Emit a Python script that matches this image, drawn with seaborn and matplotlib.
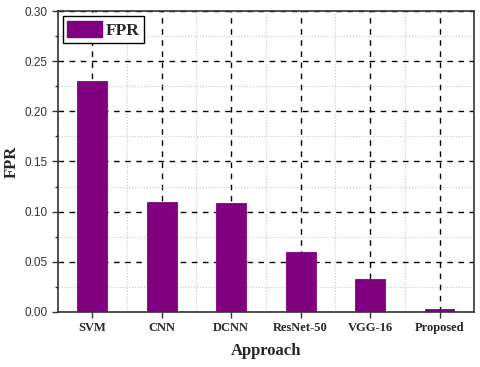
import pandas as pd
import matplotlib
matplotlib.use('Agg')
import matplotlib.pyplot as plt
import seaborn as sns
from matplotlib.ticker import MultipleLocator
from matplotlib.patches import Patch

approaches = ['SVM', 'CNN', 'DCNN', 'ResNet-50', 'VGG-16', 'Proposed']
fpr = [0.230, 0.110, 0.109, 0.060, 0.033, 0.003]

df = pd.DataFrame({'Approach': approaches, 'FPR': fpr})

sns.set_style('white')
purple = '#800080'

fig, ax = plt.subplots(figsize=(4.8, 3.67), dpi=100)
sns.barplot(x='Approach', y='FPR', data=df, color=purple, width=0.43,
            edgecolor=purple, linewidth=0.6, saturation=1, ax=ax, zorder=3)

ax.set_ylim(0, 0.30)
ax.set_xlim(-0.5, len(approaches) - 0.5)
ax.yaxis.set_major_locator(MultipleLocator(0.05))
ax.yaxis.set_minor_locator(MultipleLocator(0.025))
ax.set_xticks(range(len(approaches)), minor=False)
ax.set_xticks([i + 0.5 for i in range(len(approaches) - 1)], minor=True)
ax.yaxis.set_major_formatter(matplotlib.ticker.FormatStrFormatter('%.2f'))

ax.grid(which='major', linestyle=(0, (4, 4)), color='black', linewidth=1.0, zorder=0)
ax.grid(which='minor', linestyle=':', color='#c8c8c8', linewidth=0.8, zorder=0)
ax.set_axisbelow(True)

for s in ax.spines.values():
    s.set_color('#333333')
    s.set_linewidth(1.2)

ax.tick_params(axis='both', which='major', direction='out', length=4, width=1,
               color='#333333', bottom=True, left=True)
ax.tick_params(axis='y', which='minor', direction='out', length=2.5, width=1,
               color='#333333', left=True)
ax.tick_params(axis='x', which='minor', length=0)
ax.tick_params(axis='y', labelsize=8.5, labelcolor='#333333')
for lbl in ax.get_yticklabels():
    lbl.set_family('Liberation Sans')
for lbl in ax.get_xticklabels():
    lbl.set_family('Liberation Serif')
    lbl.set_fontweight('bold')
    lbl.set_fontsize(9)

ax.set_xlabel('Approach', family='Liberation Serif', fontweight='bold', fontsize=12, labelpad=6)
ax.set_ylabel('FPR', family='Liberation Serif', fontweight='bold', fontsize=12, labelpad=3)

leg = ax.legend(handles=[Patch(facecolor=purple, edgecolor=purple)], labels=['FPR'],
                loc='upper left', prop={'family': 'Liberation Serif', 'weight': 'bold', 'size': 12.5},
                handlelength=2.0, handleheight=1.1, borderpad=0.25, fancybox=False,
                framealpha=1, edgecolor='black', borderaxespad=0.3, handletextpad=0.2)
leg.get_frame().set_linewidth(1.0)

fig.subplots_adjust(left=0.12, right=0.988, top=0.97, bottom=0.15)
fig.savefig('out.png', dpi=100)
